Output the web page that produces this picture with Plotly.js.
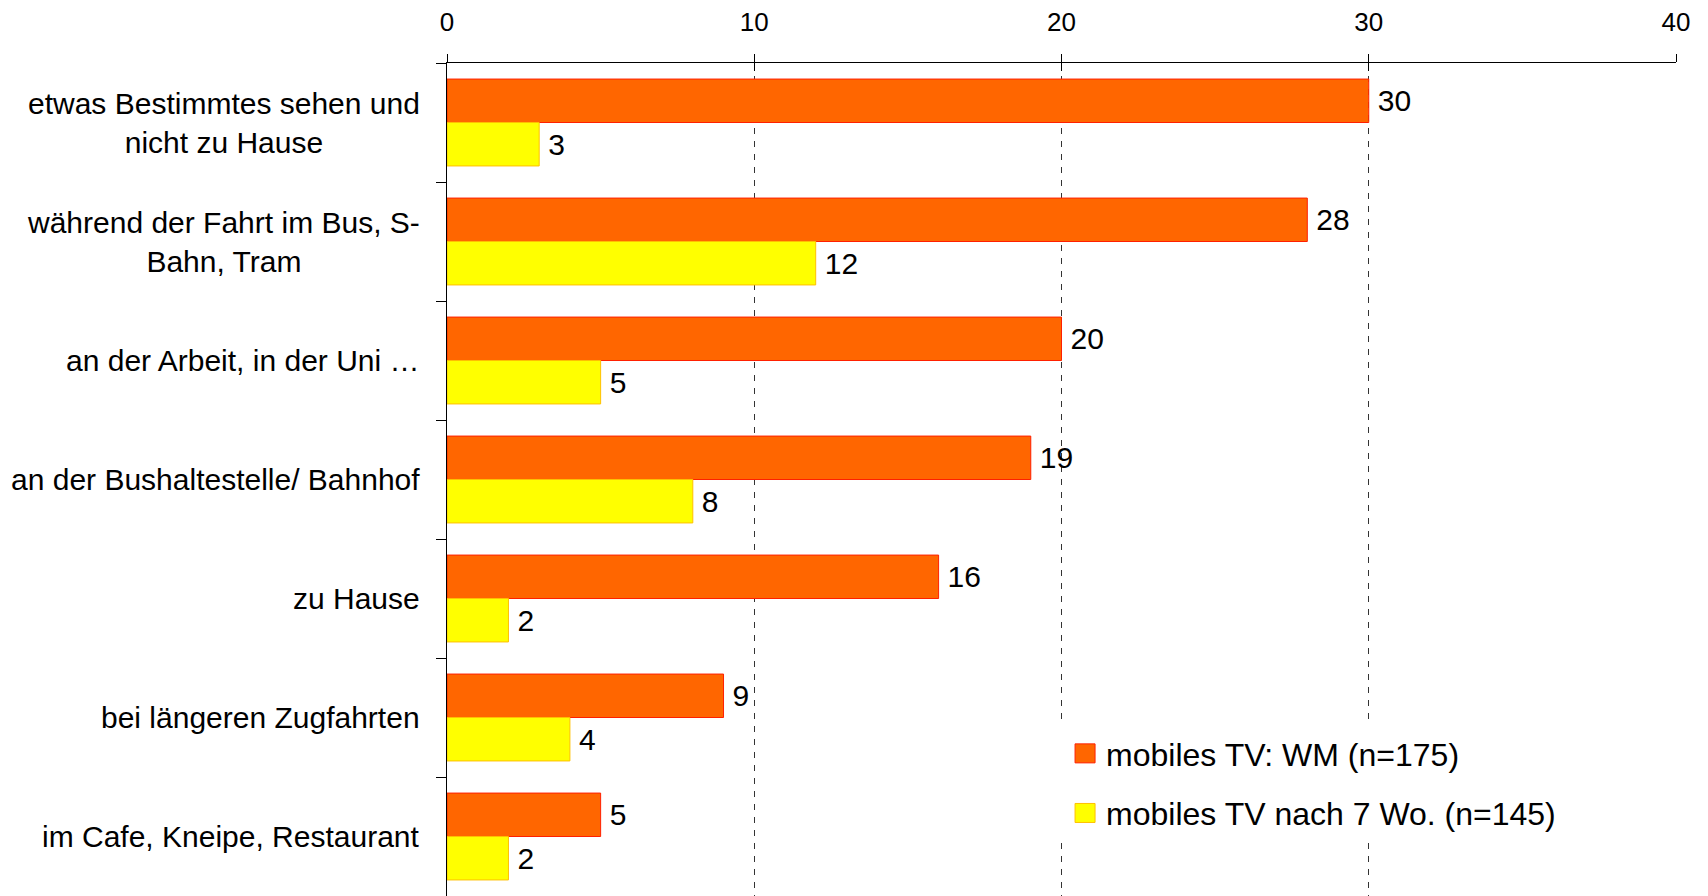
<!DOCTYPE html>
<html>
<head>
<meta charset="utf-8">
<script src="https://cdn.plot.ly/plotly-3.0.1.min.js"></script>
<style>
html, body { margin: 0; padding: 0; background: #ffffff; }
#chart { width: 1708px; height: 896px; }
</style>
</head>
<body>
<div id="chart"></div>
<script>
const categories = [
  "etwas Bestimmtes sehen und<br>nicht zu Hause",
  "während der Fahrt im Bus, S-<br>Bahn, Tram",
  "an der Arbeit, in der Uni …",
  "an der Bushaltestelle/ Bahnhof",
  "zu Hause",
  "bei längeren Zugfahrten",
  "im Cafe, Kneipe, Restaurant"
];
const seriesNames = ["mobiles TV: WM (n=175)", "mobiles TV nach 7 Wo. (n=145)"];
const valuesWM = [30, 28, 20, 19, 16, 9, 5];
const values7Wo = [3, 12, 5, 8, 2, 4, 2];
const xTicks = [0, 10, 20, 30, 40];

const FONT = "Liberation Sans, Arial, sans-serif";

const traces = [
  {
    type: "bar", orientation: "h",
    name: seriesNames[0], legendgroup: "a",
    y: categories, x: valuesWM,
    marker: { color: "#FF6600", line: { color: "#FF2000", width: 1 } },
    text: valuesWM, texttemplate: "\u2009%{x}", textposition: "outside",
    textfont: { family: FONT, size: 30, color: "#000000" },
    cliponaxis: false, hoverinfo: "x+y"
  },
  {
    type: "bar", orientation: "h",
    name: seriesNames[1], legendgroup: "b",
    y: categories, x: values7Wo,
    marker: { color: "#FFFF00", line: { color: "#FFC000", width: 1 } },
    text: values7Wo, texttemplate: "\u2009%{x}", textposition: "outside",
    textfont: { family: FONT, size: 30, color: "#000000" },
    cliponaxis: false, hoverinfo: "x+y"
  },
  {
    type: "scatter", x: [0], y: [categories[0]], xaxis: "x2",
    mode: "markers", marker: { opacity: 0 }, showlegend: false, hoverinfo: "skip"
  }
];

const annotations = categories.map(c => ({
  xref: "paper", yref: "y", x: 0, y: c,
  xanchor: "right", yanchor: "middle", xshift: -25,
  text: c, align: "center", showarrow: false,
  font: { family: FONT, size: 30, color: "#000000" }
}));

const layout = {
  width: 1708, height: 896,
  margin: { l: 447, r: 32, t: 63, b: 0, pad: 0 },
  paper_bgcolor: "#ffffff", plot_bgcolor: "#ffffff",
  font: { family: FONT, color: "#000000" },
  barmode: "group", bargap: 0.27, bargroupgap: 0,
  showlegend: true,
  legend: {
    x: 0.4972, xanchor: "left", y: 0.204, yanchor: "top",
    bgcolor: "#ffffff", borderwidth: 0, itemwidth: 38,
    font: { family: FONT, size: 32, color: "#000000" },
    tracegroupgap: 15, traceorder: "grouped"
  },
  xaxis: {
    side: "top", range: [0, 40], tickvals: xTicks, ticktext: xTicks.map(String),
    showgrid: true, gridcolor: "#333333", griddash: "6px,7px", gridwidth: 1,
    zeroline: false, showline: true, linecolor: "#000000", linewidth: 1,
    ticks: "outside", ticklen: 8, tickcolor: "#000000", tickwidth: 1,
    tickfont: { family: FONT, size: 26, color: "#000000" },
    ticklabelstandoff: 13, fixedrange: true
  },
  xaxis2: {
    overlaying: "x", side: "top", range: [0, 40], tickvals: xTicks,
    showticklabels: false, showgrid: false, zeroline: false, showline: false,
    ticks: "inside", ticklen: 8, tickcolor: "#000000", tickwidth: 1, fixedrange: true
  },
  yaxis: {
    type: "category", autorange: "reversed",
    showticklabels: false, showgrid: false, zeroline: false,
    showline: true, linecolor: "#000000", linewidth: 1,
    ticks: "outside", tickson: "boundaries", ticklen: 10, tickcolor: "#000000", tickwidth: 1,
    fixedrange: true
  },
  annotations: annotations
};

Plotly.newPlot("chart", traces, layout, { displayModeBar: false, staticPlot: true }).then(gd => {
  // enlarge legend swatches to match the reference's larger squares
  gd.querySelectorAll(".legend .legendpoints path").forEach(p => {
    p.setAttribute("d", "M13,9.5H-7V-9.5H13Z");
  });
});
</script>
</body>
</html>
